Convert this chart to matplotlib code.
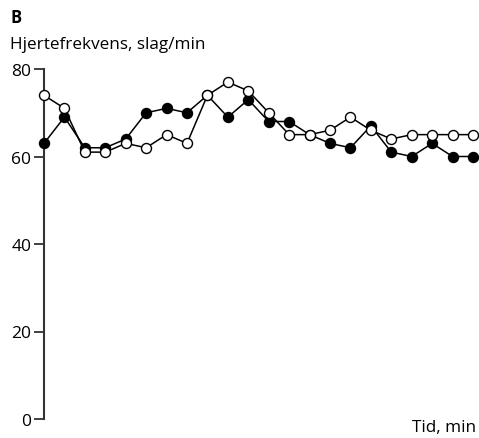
import matplotlib
matplotlib.use("Agg")
import matplotlib.pyplot as plt
import numpy as np

plt.rcParams['font.family'] = ['Open Sans', 'DejaVu Sans']

time_idx = list(range(22))
filled = [63, 69, 62, 62, 64, 70, 71, 70, 74, 69, 73, 68, 68, 65, 63, 62, 67, 61, 60, 63, 60, 60]
open_ = [74, 71, 61, 61, 63, 62, 65, 63, 74, 77, 75, 70, 65, 65, 66, 69, 66, 64, 65, 65, 65, 65]
yticks = [0, 20, 40, 60, 80]

W, H = 479, 439
fig = plt.figure(figsize=(W/100, H/100), dpi=100)
ax = fig.add_axes([44/W, (H-420)/H, (473-44)/W, 350/H])

ax.plot(time_idx, filled, color='black', lw=1.1, marker='o', ms=7.2,
        mfc='black', mec='black', mew=1.0, clip_on=False, zorder=3)
ax.plot(time_idx, open_, color='black', lw=1.1, marker='o', ms=7.2,
        mfc='white', mec='black', mew=1.0, clip_on=False, zorder=4)

ax.set_xlim(0, 21)
ax.set_ylim(0, 80)
ax.set_yticks(yticks)
ax.set_xticks([])
for s in ['top', 'right', 'bottom']:
    ax.spines[s].set_visible(False)
ax.spines['left'].set_linewidth(1.5)
ax.spines['left'].set_color('#333333')
ax.tick_params(axis='y', length=7, width=1.3, color='#333333', labelsize=12.5, pad=2)

fig.text(10/W, 1 - 18/H, 'B', fontsize=12, fontweight='bold', va='center', ha='left')
fig.text(10.5/W, 1 - 45/H, 'Hjertefrekvens, slag/min', fontsize=12.3, va='center', ha='left')
fig.text(476/W, 1 - 428/H, 'Tid, min', fontsize=12.3, va='center', ha='right')

fig.savefig('out.png', dpi=100)
